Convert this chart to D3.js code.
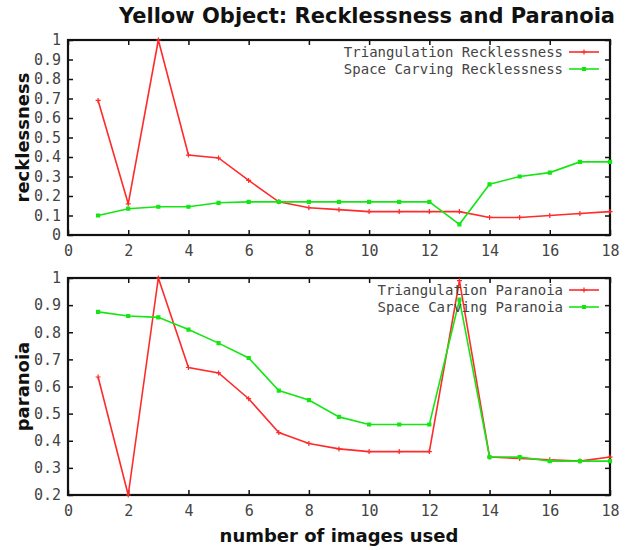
<!DOCTYPE html>
<html>
<head>
<meta charset="utf-8">
<script src="https://cdn.jsdelivr.net/npm/d3@7"></script>
<style>
  body { margin: 0; background: #fff; }
  svg text { font-family: "DejaVu Sans Mono", monospace; }
  .title, .label { font-family: "DejaVu Sans", sans-serif; font-weight: bold; fill: #111; }
</style>
</head>
<body>
<svg id="chart" width="634" height="550"></svg>
<script>
// number of images used
const images = [1, 2, 3, 4, 5, 6, 7, 8, 9, 10, 11, 12, 13, 14, 15, 16, 17, 18];

const triReck = [0.69, 0.16, 1.0, 0.41, 0.395, 0.28, 0.17, 0.14, 0.13, 0.12, 0.12, 0.12, 0.12, 0.09, 0.09, 0.10, 0.11, 0.12];
const carvReck = [0.10, 0.135, 0.145, 0.145, 0.165, 0.17, 0.17, 0.17, 0.17, 0.17, 0.17, 0.17, 0.055, 0.26, 0.30, 0.32, 0.375, 0.375];

const triPara = [0.635, 0.2, 1.0, 0.67, 0.65, 0.555, 0.43, 0.39, 0.37, 0.36, 0.36, 0.36, 0.99, 0.34, 0.335, 0.33, 0.325, 0.34];
const carvPara = [0.875, 0.86, 0.855, 0.81, 0.76, 0.705, 0.585, 0.55, 0.488, 0.46, 0.46, 0.46, 0.92, 0.34, 0.34, 0.325, 0.325, 0.325];

const xTicks = [0, 2, 4, 6, 8, 10, 12, 14, 16, 18];
const yTicksTop = [0, 0.1, 0.2, 0.3, 0.4, 0.5, 0.6, 0.7, 0.8, 0.9, 1];
const yTicksBottom = [0.2, 0.3, 0.4, 0.5, 0.6, 0.7, 0.8, 0.9, 1];

const red = '#ff2a2a';
const green = '#14e614';

const svg = d3.select('#chart');

svg.append('text')
  .attr('class', 'title')
  .attr('x', 367)
  .attr('y', 23)
  .attr('text-anchor', 'middle')
  .style('font-size', '21px')
  .text('Yellow Object: Recklessness and Paranoia');

function panel(opts) {
  const { top, bottom, yDomain, yTicks, ylabel, series } = opts;
  const left = 68, right = 610;

  const x = d3.scaleLinear().domain([0, 18]).range([left, right]);
  const y = d3.scaleLinear().domain(yDomain).range([bottom, top]);

  const g = svg.append('g');

  const fmt = (d) => d3.format('~g')(d);

  // bottom axis with labels
  g.append('g')
    .attr('transform', `translate(0,${bottom})`)
    .call(d3.axisBottom(x).tickValues(xTicks).tickSize(-5).tickPadding(10).tickFormat(fmt))
    .call((a) => a.select('.domain').remove())
    .selectAll('text')
    .style('font-size', '15px')
    .style('fill', '#444');

  // top mirror ticks
  g.append('g')
    .attr('transform', `translate(0,${top})`)
    .call(d3.axisTop(x).tickValues(xTicks).tickSize(-5).tickFormat(''))
    .call((a) => a.select('.domain').remove());

  // left axis with labels
  g.append('g')
    .attr('transform', `translate(${left},0)`)
    .call(d3.axisLeft(y).tickValues(yTicks).tickSize(-5).tickPadding(7).tickFormat(fmt))
    .call((a) => a.select('.domain').remove())
    .selectAll('text')
    .style('font-size', '15px')
    .style('fill', '#444');

  // right mirror ticks
  g.append('g')
    .attr('transform', `translate(${right},0)`)
    .call(d3.axisRight(y).tickValues(yTicks).tickSize(-5).tickFormat(''))
    .call((a) => a.select('.domain').remove());

  g.selectAll('.tick line').attr('stroke', '#111').attr('stroke-width', 1.5);

  // frame
  g.append('rect')
    .attr('x', left)
    .attr('y', top)
    .attr('width', right - left)
    .attr('height', bottom - top)
    .attr('fill', 'none')
    .attr('stroke', '#111')
    .attr('stroke-width', 2.2);

  const line = d3.line()
    .x((d, i) => x(images[i]))
    .y((d) => y(d));

  series.forEach((s, k) => {
    g.append('path')
      .datum(s.values)
      .attr('fill', 'none')
      .attr('stroke', s.color)
      .attr('stroke-width', 1.6)
      .attr('d', line);

    // point markers
    g.selectAll(null)
      .data(s.values)
      .enter()
      .append('path')
      .attr('transform', (d, i) => `translate(${x(images[i])},${y(d)})`)
      .attr('d', s.marker === 'plus' ? 'M-2.5,0H2.5M0,-2.5V2.5' : 'M-1.5,-1.5H1.5V1.5H-1.5Z')
      .attr('stroke', s.color)
      .attr('stroke-width', 1.2)
      .attr('fill', s.color);

    // legend entry
    const ly = top + 12 + k * 17;
    g.append('text')
      .attr('x', 563)
      .attr('y', ly)
      .attr('dy', '0.35em')
      .attr('text-anchor', 'end')
      .style('font-size', '14px')
      .style('fill', '#444')
      .text(s.name);
    g.append('line')
      .attr('x1', 569).attr('x2', 599)
      .attr('y1', ly).attr('y2', ly)
      .attr('stroke', s.color)
      .attr('stroke-width', 1.6);
    g.append('path')
      .attr('transform', `translate(584,${ly})`)
      .attr('d', s.marker === 'plus' ? 'M-2.5,0H2.5M0,-2.5V2.5' : 'M-1.5,-1.5H1.5V1.5H-1.5Z')
      .attr('stroke', s.color)
      .attr('stroke-width', 1.2)
      .attr('fill', s.color);
  });

  svg.append('text')
    .attr('class', 'label')
    .attr('transform', `translate(23,${(top + bottom) / 2}) rotate(-90)`)
    .attr('text-anchor', 'middle')
    .attr('dy', '0.35em')
    .style('font-size', '18px')
    .text(ylabel);
}

panel({
  top: 40, bottom: 235,
  yDomain: [0, 1], yTicks: yTicksTop,
  ylabel: 'recklessness',
  series: [
    { name: 'Triangulation Recklessness', values: triReck, color: red, marker: 'plus' },
    { name: 'Space Carving Recklessness', values: carvReck, color: green, marker: 'box' }
  ]
});

panel({
  top: 278, bottom: 495,
  yDomain: [0.2, 1], yTicks: yTicksBottom,
  ylabel: 'paranoia',
  series: [
    { name: 'Triangulation Paranoia', values: triPara, color: red, marker: 'plus' },
    { name: 'Space Carving Paranoia', values: carvPara, color: green, marker: 'box' }
  ]
});

svg.append('text')
  .attr('class', 'label')
  .attr('x', 339)
  .attr('y', 542)
  .attr('text-anchor', 'middle')
  .style('font-size', '18px')
  .text('number of images used');
</script>
</body>
</html>
